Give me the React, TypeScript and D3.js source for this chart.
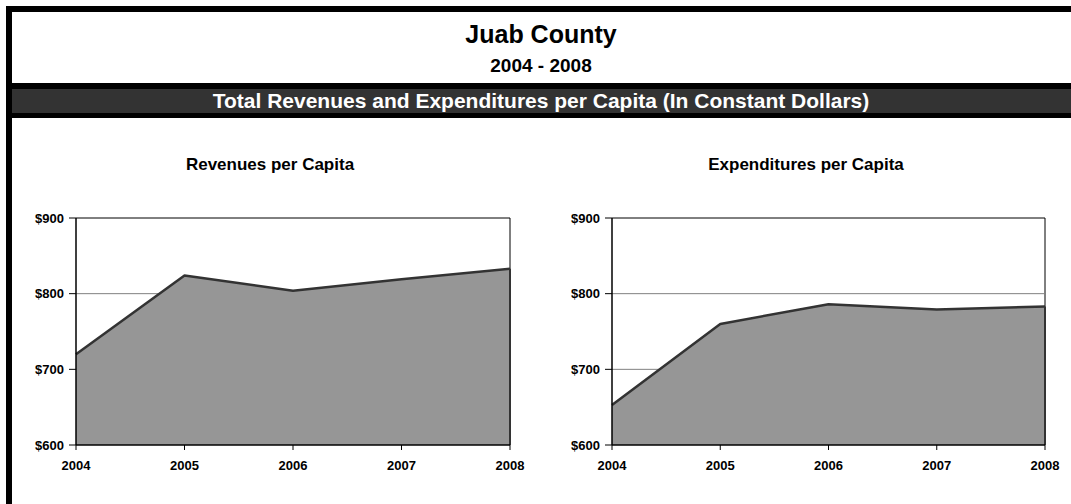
import React from "react";
import * as d3 from "d3";

const years = ["2004", "2005", "2006", "2007", "2008"];
const revenues = [720, 824, 804, 819, 833];
const expenditures = [653, 760, 786, 779, 783];
const yTicks = [600, 700, 800, 900];

const W = 1071;
const H = 504;
const FONT = "'Liberation Sans', Arial, sans-serif";

type Pt = { yr: string; v: number };

function AreaPanel({ title, values, x0, x1, titleX }: { title: string; values: number[]; x0: number; x1: number; titleX: number }) {
  const top = 218;
  const bottom = 445;
  const x = d3.scalePoint<string>().domain(years).range([x0, x1]);
  const y = d3.scaleLinear().domain([600, 900]).range([bottom, top]);
  const data: Pt[] = years.map((yr, i) => ({ yr, v: values[i] }));
  const area = d3
    .area<Pt>()
    .x((d) => x(d.yr)!)
    .y0(y(600))
    .y1((d) => y(d.v));
  const line = d3
    .line<Pt>()
    .x((d) => x(d.yr)!)
    .y((d) => y(d.v));
  return (
    <g>
      <text x={titleX} y={170} textAnchor="middle" fontFamily={FONT} fontWeight="bold" fontSize={17}>
        {title}
      </text>
      <line x1={x0} x2={x1} y1={top} y2={top} stroke="#000" strokeWidth={1} />
      <line x1={x1} x2={x1} y1={top} y2={bottom} stroke="#000" strokeWidth={1} />
      {yTicks
        .filter((t) => t !== 600 && t !== 900)
        .map((t) => (
          <line key={t} x1={x0} x2={x1} y1={y(t)} y2={y(t)} stroke="#808080" strokeWidth={1} />
        ))}
      <path d={area(data)!} fill="#969696" />
      <path d={line(data)!} fill="none" stroke="#333" strokeWidth={2.5} strokeLinejoin="round" />
      <line x1={x1} x2={x1} y1={y(values[values.length - 1])} y2={bottom} stroke="#333" strokeWidth={2} />
      <line x1={x0} x2={x0} y1={top} y2={bottom} stroke="#000" strokeWidth={1.5} />
      <line x1={x0} x2={x1} y1={bottom} y2={bottom} stroke="#000" strokeWidth={1.5} />
      {yTicks.map((t) => (
        <g key={t}>
          <line x1={x0 - 7} x2={x0} y1={y(t)} y2={y(t)} stroke="#000" strokeWidth={1} />
          <text x={x0 - 12} y={y(t) + 4.5} textAnchor="end" fontFamily={FONT} fontWeight="bold" fontSize={13}>
            {"$" + t}
          </text>
        </g>
      ))}
      {years.map((yr) => (
        <g key={yr}>
          <line x1={x(yr)!} x2={x(yr)!} y1={bottom} y2={bottom + 5} stroke="#000" strokeWidth={1} />
          <text x={x(yr)!} y={bottom + 25} textAnchor="middle" fontFamily={FONT} fontWeight="bold" fontSize={13}>
            {yr}
          </text>
        </g>
      ))}
    </g>
  );
}

export default function App() {
  return (
    <svg width={W} height={H} style={{ position: "absolute", left: 0, top: 0, background: "#fff" }}>
      <rect x={0} y={0} width={W} height={H} fill="#fff" />
      <rect x={6} y={6} width={W - 6} height={6} fill="#000" />
      <rect x={6} y={6} width={6} height={H - 6} fill="#000" />
      <text x={541} y={43} textAnchor="middle" fontFamily={FONT} fontWeight="bold" fontSize={25}>
        Juab County
      </text>
      <text x={541} y={72} textAnchor="middle" fontFamily={FONT} fontWeight="bold" fontSize={19}>
        2004 - 2008
      </text>
      <rect x={6} y={83} width={W - 6} height={6} fill="#000" />
      <rect x={12} y={89} width={W - 12} height={24} fill="#333" />
      <rect x={6} y={113} width={W - 6} height={5} fill="#000" />
      <text x={541} y={108} textAnchor="middle" fontFamily={FONT} fontWeight="bold" fontSize={21} fill="#fff">
        Total Revenues and Expenditures per Capita (In Constant Dollars)
      </text>
      <AreaPanel title="Revenues per Capita" values={revenues} x0={76} x1={510} titleX={270} />
      <AreaPanel title="Expenditures per Capita" values={expenditures} x0={612} x1={1045} titleX={806} />
    </svg>
  );
}
